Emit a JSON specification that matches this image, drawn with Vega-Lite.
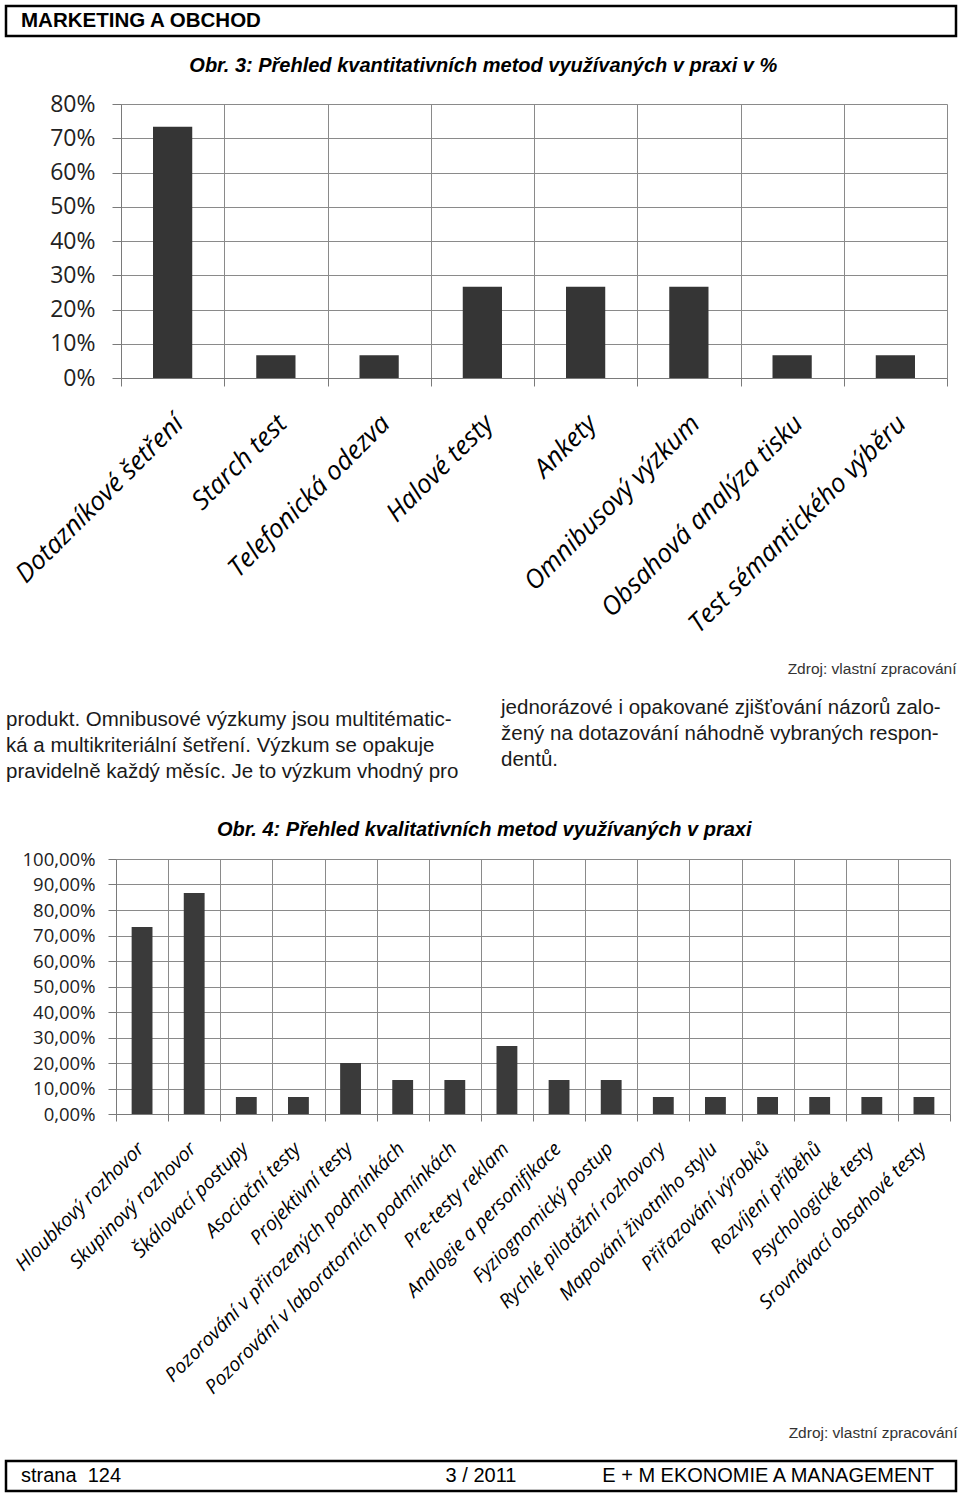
{
  "$schema": "https://vega.github.io/schema/vega-lite/v6.json",
  "padding": {"left": 4, "top": 4, "right": 4, "bottom": 4},
  "background": "#ffffff",
  "columns": 1,
  "bounds": "full",
  "spacing": 18,
  "config": {
    "font": "Liberation Sans",
    "view": {"stroke": null},
    "title": {"font": "Liberation Sans", "fontSize": 20, "fontStyle": "italic", "fontWeight": "bold", "color": "#000000", "frame": "bounds", "anchor": "middle"},
    "axis": {"gridColor": "#8a8a8a", "domainColor": "#7a7a7a", "tickColor": "#7a7a7a", "gridWidth": 1, "domainWidth": 1, "tickWidth": 1}
  },
  "concat": [
    {
      "width": 950,
      "height": 30,
      "view": {"stroke": "#000000", "strokeWidth": 2.5},
      "data": {"values": [{"rubrika": "MARKETING A OBCHOD"}]},
      "mark": {"type": "text", "align": "left", "baseline": "middle", "dx": 15, "fontSize": 20.5, "fontWeight": "bold", "font": "Liberation Sans", "color": "#000000"},
      "encoding": {
        "x": {"field": "rubrika", "type": "nominal", "scale": {"type": "point", "padding": 0, "align": 0}, "axis": null},
        "text": {"field": "rubrika"}
      }
    },
    {
      "hconcat": [
        {
          "width": 115,
          "height": 1,
          "data": {"values": []},
          "mark": {"type": "point", "opacity": 0},
          "encoding": {}
        },
        {
          "width": 826,
          "height": 274,
          "title": {"text": "Obr. 3: Přehled kvantitativních metod využívaných v praxi v %", "offset": 17},
          "data": {"values": [
            {"metoda": "Dotazníkové šetření", "podil": 73.33},
            {"metoda": "Starch test", "podil": 6.67},
            {"metoda": "Telefonická odezva", "podil": 6.67},
            {"metoda": "Halové testy", "podil": 26.67},
            {"metoda": "Ankety", "podil": 26.67},
            {"metoda": "Omnibusový výzkum", "podil": 26.67},
            {"metoda": "Obsahová analýza tisku", "podil": 6.67},
            {"metoda": "Test sémantického výběru", "podil": 6.67}
          ]},
          "mark": {"type": "bar", "color": "#353535", "width": {"band": 0.38}},
          "encoding": {
            "x": {"field": "metoda", "type": "nominal", "sort": null,
                  "scale": {"paddingInner": 0, "paddingOuter": 0},
                  "axis": {"title": "Zdroj: vlastní zpracování", "titleX": 835, "titleAlign": "right", "titleFont": "Liberation Sans", "titleFontWeight": "normal", "titleFontSize": 15.5, "titleColor": "#333333", "titlePadding": 83,
                           "labelAngle": -45, "labelFont": "Open Sans", "labelFontStyle": "italic", "labelFontSize": 26, "labelColor": "#000000", "labelPadding": 24, "labelOffset": -3, "labelLimit": 500,
                           "tickBand": "extent", "tickSize": 8, "grid": true}},
            "y": {"field": "podil", "type": "quantitative", "scale": {"domain": [0, 80]},
                  "axis": {"title": null, "values": [0, 10, 20, 30, 40, 50, 60, 70, 80], "labelExpr": "datum.value + '%'", "labelFont": "Open Sans", "labelFontSize": 23, "labelColor": "#222222", "labelPadding": 17, "tickSize": 9, "grid": true}}
          }
        }
      ],
      "spacing": 0,
      "bounds": "flush"
    },
    {
      "width": 950,
      "height": 105,
      "view": {"stroke": "transparent"},
      "layer": [
        {
          "data": {"values": [{"sloupec": "levý", "text": "produkt. Omnibusové výzkumy jsou multitématic-\nká a multikriteriální šetření. Výzkum se opakuje\npravidelně každý měsíc. Je to výzkum vhodný pro"}]},
          "mark": {"type": "text", "align": "left", "baseline": "middle", "dy": -28.5, "lineBreak": "\n", "lineHeight": 26, "fontSize": 20.5, "font": "Liberation Sans", "color": "#1a1a1a"},
          "encoding": {
            "x": {"field": "sloupec", "type": "nominal", "bandPosition": 0, "scale": {"type": "band", "domain": ["levý", "pravý"], "paddingInner": 0.081, "paddingOuter": 0}, "axis": null},
            "text": {"field": "text"}
          }
        },
        {
          "data": {"values": [{"sloupec": "pravý", "text": "jednorázové i opakované zjišťování názorů zalo-\nžený na dotazování náhodně vybraných respon-\ndentů."}]},
          "mark": {"type": "text", "align": "left", "baseline": "middle", "dy": -40.5, "lineBreak": "\n", "lineHeight": 26, "fontSize": 20.5, "font": "Liberation Sans", "color": "#1a1a1a"},
          "encoding": {
            "x": {"field": "sloupec", "type": "nominal", "bandPosition": 0, "axis": null},
            "text": {"field": "text"}
          }
        }
      ]
    },
    {
      "hconcat": [
        {
          "width": 110,
          "height": 1,
          "data": {"values": []},
          "mark": {"type": "point", "opacity": 0},
          "encoding": {}
        },
        {
          "width": 834,
          "height": 255,
          "title": {"text": "Obr. 4: Přehled kvalitativních metod využívaných v praxi", "offset": 10},
          "data": {"values": [
            {"metoda": "Hloubkový rozhovor", "podil": 73.33},
            {"metoda": "Skupinový rozhovor", "podil": 86.67},
            {"metoda": "Škálovací postupy", "podil": 6.67},
            {"metoda": "Asociační testy", "podil": 6.67},
            {"metoda": "Projektivní testy", "podil": 20},
            {"metoda": "Pozorování v přirozených podmínkách", "podil": 13.33},
            {"metoda": "Pozorování v laboratorních podmínkách", "podil": 13.33},
            {"metoda": "Pre-testy reklam", "podil": 26.67},
            {"metoda": "Analogie a personifikace", "podil": 13.33},
            {"metoda": "Fyziognomický postup", "podil": 13.33},
            {"metoda": "Rychlé pilotážní rozhovory", "podil": 6.67},
            {"metoda": "Mapování životního stylu", "podil": 6.67},
            {"metoda": "Přiřazování výrobků", "podil": 6.67},
            {"metoda": "Rozvíjení příběhů", "podil": 6.67},
            {"metoda": "Psychologické testy", "podil": 6.67},
            {"metoda": "Srovnávací obsahové testy", "podil": 6.67}
          ]},
          "mark": {"type": "bar", "color": "#3a3a3a", "width": {"band": 0.4}},
          "encoding": {
            "x": {"field": "metoda", "type": "nominal", "sort": null,
                  "scale": {"paddingInner": 0, "paddingOuter": 0},
                  "axis": {"title": "Zdroj: vlastní zpracování", "titleX": 841, "titleAlign": "right", "titleFont": "Liberation Sans", "titleFontWeight": "normal", "titleFontSize": 15.5, "titleColor": "#333333", "titlePadding": 111,
                           "labelAngle": -45, "labelFont": "Open Sans", "labelFontStyle": "italic", "labelFontSize": 19.5, "labelColor": "#000000", "labelPadding": 18, "labelOffset": -8, "labelLimit": 500,
                           "tickBand": "extent", "tickSize": 7, "grid": true}},
            "y": {"field": "podil", "type": "quantitative", "scale": {"domain": [0, 100]},
                  "axis": {"title": null, "values": [0, 10, 20, 30, 40, 50, 60, 70, 80, 90, 100], "labelExpr": "replace(format(datum.value, '.2f'), '.', ',') + '%'", "labelFont": "Open Sans", "labelFontSize": 18.5, "labelColor": "#222222", "labelPadding": 13, "tickSize": 8, "grid": true}}
          }
        }
      ],
      "spacing": 0,
      "bounds": "flush"
    },
    {
      "width": 950,
      "height": 30,
      "view": {"stroke": "#000000", "strokeWidth": 2.5},
      "layer": [
        {
          "data": {"values": [{"udaj": "strana \u00a0124"}]},
          "mark": {"type": "text", "align": "left", "baseline": "middle", "dx": 15, "fontSize": 20, "font": "Liberation Sans", "color": "#000000"},
          "encoding": {
            "x": {"field": "udaj", "type": "nominal", "scale": {"type": "point", "padding": 0, "domain": ["strana \u00a0124", "3 / 2011", "E + M EKONOMIE A MANAGEMENT"]}, "axis": null},
            "text": {"field": "udaj"}
          }
        },
        {
          "data": {"values": [{"udaj": "3 / 2011"}]},
          "mark": {"type": "text", "align": "center", "baseline": "middle", "fontSize": 20, "font": "Liberation Sans", "color": "#000000"},
          "encoding": {
            "x": {"field": "udaj", "type": "nominal", "axis": null},
            "text": {"field": "udaj"}
          }
        },
        {
          "data": {"values": [{"udaj": "E + M EKONOMIE A MANAGEMENT"}]},
          "mark": {"type": "text", "align": "right", "baseline": "middle", "dx": -22, "fontSize": 20, "font": "Liberation Sans", "color": "#000000"},
          "encoding": {
            "x": {"field": "udaj", "type": "nominal", "axis": null},
            "text": {"field": "udaj"}
          }
        }
      ]
    }
  ]
}
